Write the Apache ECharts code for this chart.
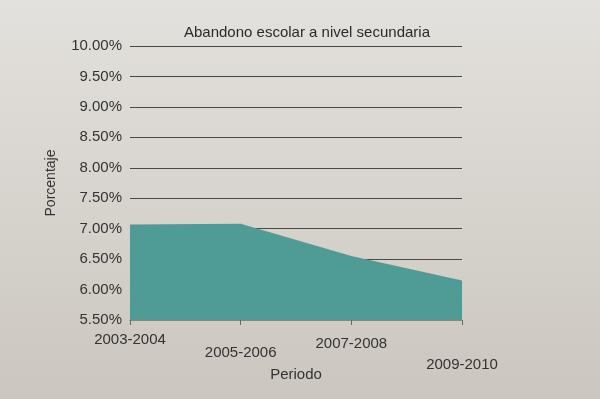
<!DOCTYPE html>
<html>
<head>
<meta charset="utf-8">
<script src="https://cdn.jsdelivr.net/npm/echarts@6/dist/echarts.min.js"></script>
<style>
html,body{margin:0;padding:0;}
#main{width:600px;height:399px;}
</style>
</head>
<body>
<div id="main"></div>
<script>
// datos
var periodos = ['2003-2004', '2005-2006', '2007-2008', '2009-2010'];
var abandono = [7.07, 7.08, 6.55, 6.15];
var yMin = 5.5, yMax = 10, yPaso = 0.5;

// estilos de etiqueta escalonados como en la foto
var estilosEtiqueta = ['a', 'b', 'c', 'd'];

var myChart = echarts.init(document.getElementById('main'));
var option = {
    backgroundColor: new echarts.graphic.LinearGradient(0, 0, 0, 1, [
        {offset: 0, color: '#e3e1dd'},
        {offset: 1, color: '#cbc6bf'}
    ]),
    textStyle: {fontFamily: 'Liberation Sans', color: '#333'},
    title: {
        text: 'Abandono escolar a nivel secundaria',
        left: 302,
        top: 20,
        textAlign: 'center',
        textStyle: {fontSize: 15, fontWeight: 'normal', color: '#2a2a2a', fontFamily: 'Liberation Sans'}
    },
    grid: {left: 130, right: 138, top: 46, bottom: 79},
    xAxis: {
        type: 'category',
        data: periodos,
        boundaryGap: false,
        name: 'Periodo',
        nameLocation: 'middle',
        nameGap: 47,
        nameMoveOverlap: false,
        nameTextStyle: {fontSize: 15, color: '#333'},
        axisLine: {lineStyle: {color: '#8a8680', width: 1}},
        axisTick: {show: true, length: 5, interval: 0, lineStyle: {color: '#6a6660'}},
        axisLabel: {
            interval: 0,
            hideOverlap: false,
            margin: 12,
            fontSize: 15,
            color: '#333',
            formatter: function (v, i) {
                return '{' + estilosEtiqueta[i] + '|' + v + '}';
            },
            rich: {
                a: {fontSize: 15, color: '#333', padding: [0, 0, 0, 0]},
                b: {fontSize: 15, color: '#333', padding: [13, 0, 0, 0]},
                c: {fontSize: 15, color: '#333', padding: [4, 0, 0, 0]},
                d: {fontSize: 15, color: '#333', padding: [25, 0, 0, 0]}
            }
        }
    },
    yAxis: {
        type: 'value',
        min: yMin,
        max: yMax,
        interval: yPaso,
        name: 'Porcentaje',
        nameLocation: 'middle',
        nameGap: 72,
        nameRotate: 90,
        nameTextStyle: {fontSize: 14, color: '#333'},
        axisLine: {show: false},
        axisTick: {show: false},
        axisLabel: {
            fontSize: 15,
            color: '#333',
            margin: 8,
            formatter: function (v) { return v.toFixed(2) + '%'; }
        },
        splitLine: {lineStyle: {color: '#4a4845', width: 1}}
    },
    series: [{
        name: 'Abandono escolar',
        type: 'line',
        data: abandono,
        symbol: 'none',
        lineStyle: {width: 0},
        areaStyle: {color: '#4f9c97', opacity: 1, origin: 'start'},
        z: 1
    }]
};
myChart.setOption(option);
</script>
</body>
</html>
